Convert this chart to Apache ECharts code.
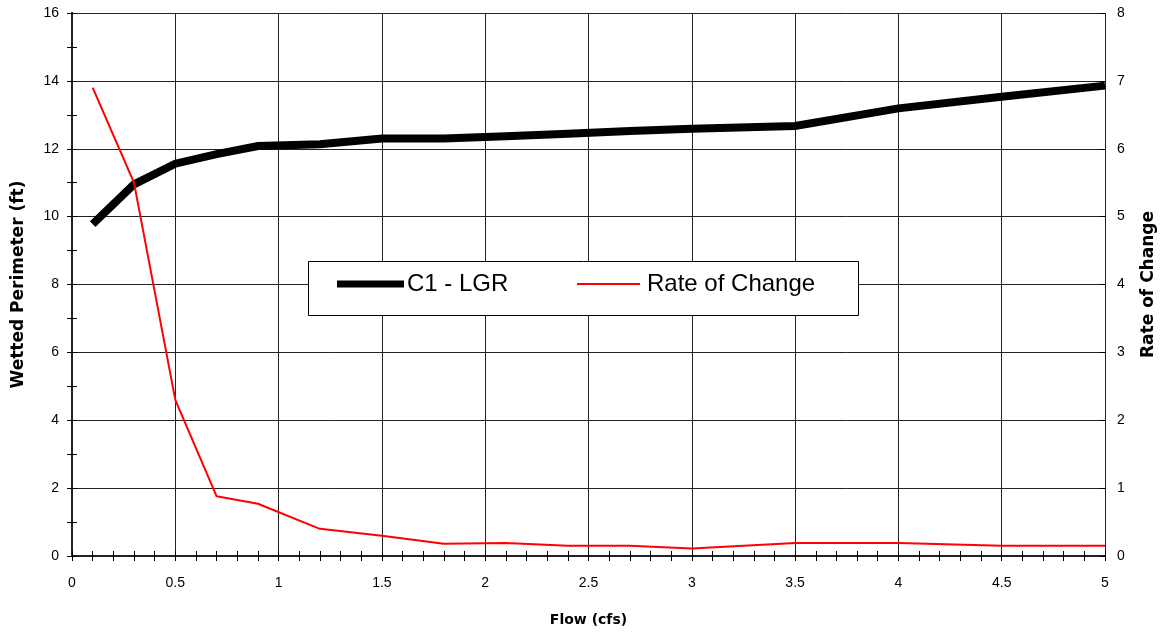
<!DOCTYPE html>
<html>
<head>
<meta charset="utf-8">
<script src="https://cdn.jsdelivr.net/npm/echarts@6/dist/echarts.min.js"></script>
<style>
  html, body { margin: 0; padding: 0; background: #fff; }
  #chart { width: 1168px; height: 635px; }
</style>
</head>
<body>
<div id="chart"></div>
<script>
const flow = [0.1, 0.3, 0.5, 0.7, 0.9, 1.2, 1.5, 1.8, 2.1, 2.4, 2.7, 3.0, 3.5, 4.0, 4.5, 5.0];
const perimeter = [9.78, 10.95, 11.56, 11.84, 12.08, 12.13, 12.3, 12.3, 12.37, 12.44, 12.52, 12.59, 12.67, 13.19, 13.53, 13.86];
const rateOfChange = [6.9, 5.5, 2.3, 0.88, 0.77, 0.4, 0.3, 0.18, 0.19, 0.15, 0.15, 0.11, 0.19, 0.19, 0.15, 0.15];
const seriesNames = ['C1 - LGR', 'Rate of Change'];
const axisTitles = { x: 'Flow (cfs)', left: 'Wetted Perimeter (ft)', right: 'Rate of Change' };

const chart = echarts.init(document.getElementById('chart'), null, { renderer: 'canvas' });
const font = 'Liberation Sans, Arial, sans-serif';
const titleFont = 'DejaVu Sans, sans-serif';
const gridColor = '#222';
const axisColor = '#222';

const baseX = { type: 'value', min: 0, max: 5, interval: 0.5, gridIndex: 0, position: 'bottom' };
const baseL = { type: 'value', min: 0, max: 16, interval: 2, position: 'left' };
const baseR = { type: 'value', min: 0, max: 8, interval: 1, position: 'right' };

chart.setOption({
  animation: false,
  backgroundColor: '#fff',
  grid: { left: 72, right: 63, top: 13, bottom: 79, containLabel: false },
  xAxis: [
    Object.assign({}, baseX, {
      name: axisTitles.x, nameLocation: 'middle', nameGap: 57,
      nameTextStyle: { fontFamily: titleFont, fontSize: 14, fontWeight: 'bold', color: '#000' },
      axisLine: { show: true, lineStyle: { color: axisColor, width: 2 } },
      axisTick: { show: true, inside: false, length: 5, lineStyle: { color: '#000', width: 1 } },
      minorTick: { show: true, splitNumber: 5, length: 5, lineStyle: { color: '#000', width: 1 } },
      axisLabel: { margin: 20, fontFamily: font, fontSize: 14, color: '#000' },
      splitLine: { show: true, lineStyle: { color: gridColor, width: 1 } }
    }),
    Object.assign({}, baseX, {
      axisLine: { show: false },
      axisTick: { show: true, inside: true, length: 5, lineStyle: { color: '#000', width: 1 } },
      minorTick: { show: true, splitNumber: 5, length: 5, lineStyle: { color: '#000', width: 1 } },
      axisLabel: { show: false },
      splitLine: { show: false }
    })
  ],
  yAxis: [
    Object.assign({}, baseL, {
      name: axisTitles.left, nameLocation: 'middle', nameGap: 45, nameRotate: 90,
      nameTextStyle: { fontFamily: titleFont, fontSize: 17, fontWeight: 'bold', color: '#000' },
      axisLine: { show: true, lineStyle: { color: axisColor, width: 2 } },
      axisTick: { show: true, inside: false, length: 5, lineStyle: { color: '#000', width: 1 } },
      minorTick: { show: true, splitNumber: 2, length: 5, lineStyle: { color: '#000', width: 1 } },
      axisLabel: { margin: 13, fontFamily: font, fontSize: 14, color: '#000' },
      splitLine: { show: true, lineStyle: { color: gridColor, width: 1 } }
    }),
    Object.assign({}, baseR, {
      name: axisTitles.right, nameLocation: 'middle', nameGap: 35, nameRotate: 90,
      nameTextStyle: { fontFamily: titleFont, fontSize: 17, fontWeight: 'bold', color: '#000' },
      axisLine: { show: true, lineStyle: { color: axisColor, width: 2 } },
      axisTick: { show: true, inside: false, length: 5, lineStyle: { color: '#000', width: 1 } },
      axisLabel: { margin: 12, fontFamily: font, fontSize: 14, color: '#000' },
      splitLine: { show: false }
    }),
    Object.assign({}, baseL, {
      axisLine: { show: false },
      axisTick: { show: true, inside: true, length: 5, lineStyle: { color: '#000', width: 1 } },
      minorTick: { show: true, splitNumber: 2, length: 5, lineStyle: { color: '#000', width: 1 } },
      axisLabel: { show: false },
      splitLine: { show: false }
    }),
    Object.assign({}, baseR, {
      axisLine: { show: false },
      axisTick: { show: true, inside: true, length: 5, lineStyle: { color: '#000', width: 1 } },
      axisLabel: { show: false },
      splitLine: { show: false }
    })
  ],
  graphic: [{
    type: 'rect', z: 100,
    shape: { x: 308.5, y: 261.5, width: 550, height: 54 },
    style: { fill: '#fff', stroke: '#000', lineWidth: 1 }
  }],
  legend: [
    {
      data: [{ name: seriesNames[0], icon: 'rect' }], left: 337, top: 272, z: 110,
      itemWidth: 67, itemHeight: 7, padding: 0,
      textStyle: { fontFamily: font, fontSize: 24, color: '#000', padding: [0, 0, 0, -2] }
    },
    {
      data: [{ name: seriesNames[1], icon: 'rect' }], left: 577, top: 272, z: 110,
      itemWidth: 63, itemHeight: 2, padding: 0,
      textStyle: { fontFamily: font, fontSize: 24, color: '#000', padding: [0, 0, 0, 2] }
    }
  ],
  series: [
    {
      name: seriesNames[0], type: 'line', xAxisIndex: 0, yAxisIndex: 0,
      data: flow.map((f, i) => [f, perimeter[i]]),
      showSymbol: false, symbol: 'none',
      lineStyle: { color: '#000', width: 8, join: 'miter' },
      itemStyle: { color: '#000' }
    },
    {
      name: seriesNames[1], type: 'line', xAxisIndex: 0, yAxisIndex: 1,
      data: flow.map((f, i) => [f, rateOfChange[i]]),
      showSymbol: false, symbol: 'none',
      lineStyle: { color: '#ff0000', width: 2 },
      itemStyle: { color: '#ff0000' }
    }
  ]
});
</script>
</body>
</html>
